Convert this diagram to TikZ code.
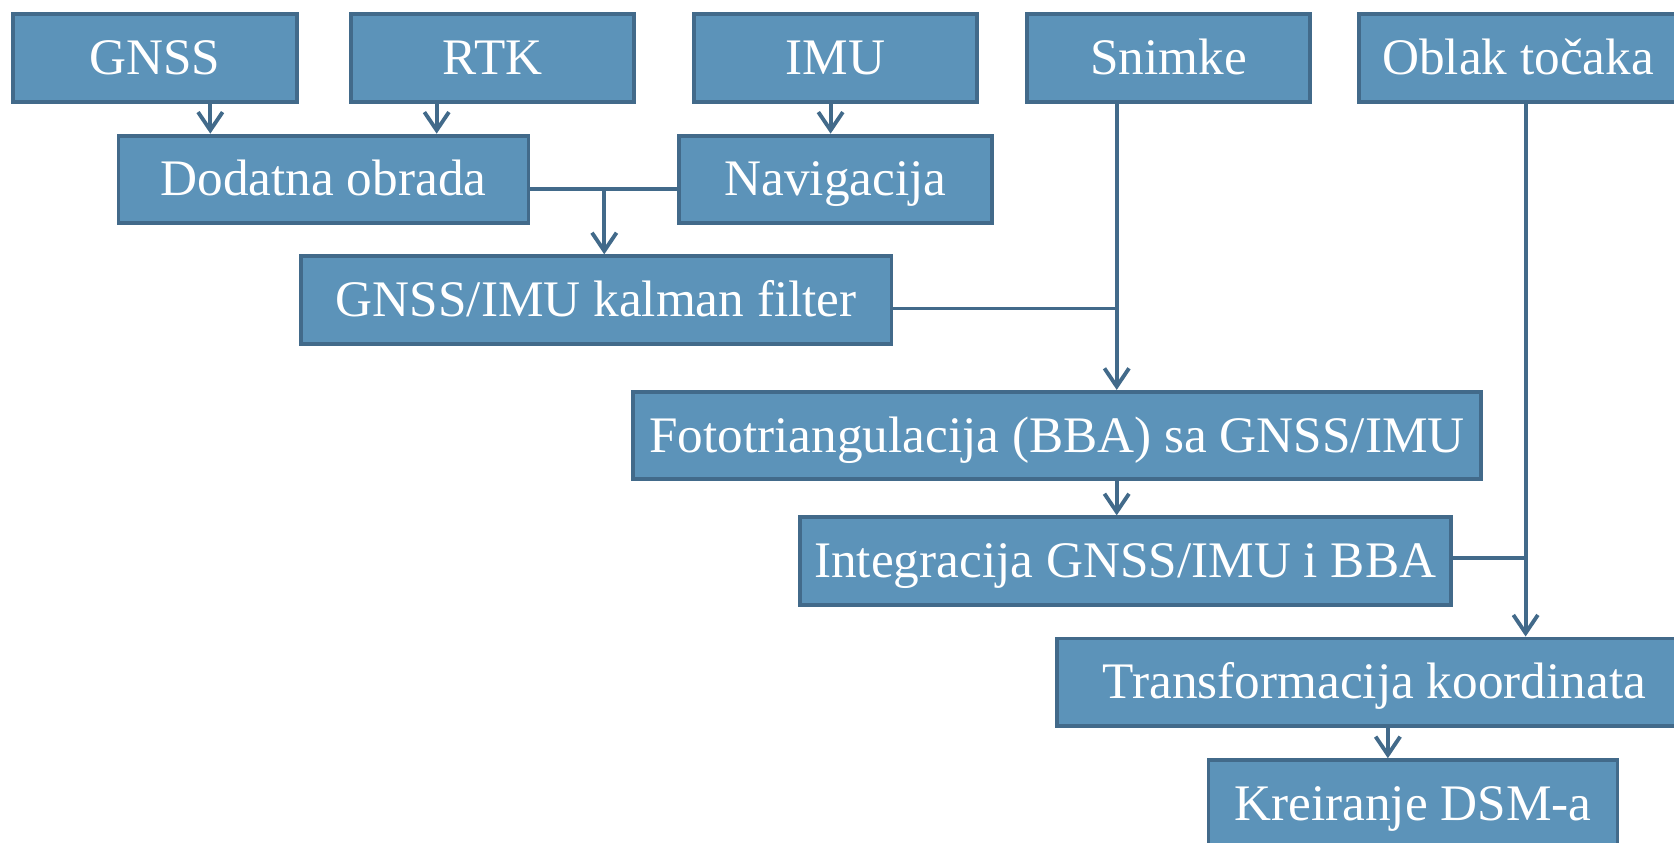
\documentclass[tikz,border=0pt]{standalone}
\usepackage{fontspec}
\setmainfont{Liberation Serif}
\usetikzlibrary{arrows.meta}
\definecolor{boxfill}{RGB}{92,147,185}
\definecolor{boxline}{RGB}{66,106,138}
\begin{document}
\begin{tikzpicture}[x=0.5pt,y=-0.5pt,
  box/.style={draw=boxline,fill=boxfill,line width=1.8pt,text=white,
    inner sep=0pt,minimum height=41pt,text height=19pt,text depth=3.6pt,
    font=\fontsize{24}{28}\selectfont},
  conn/.style={draw=boxline,line width=1.8pt},
  arr/.style={conn,-{Straight Barb[length=8.5pt,width=11.5pt,line width=1.8pt]}}]
\useasboundingbox (0,0) rectangle (1568,789);
\clip (0,0) rectangle (1568,789);
% top row
\node[box,minimum width=133pt] (gnss) at (145,54.5) {GNSS};
\node[box,minimum width=132.5pt] (rtk) at (461.5,54.5) {RTK};
\node[box,minimum width=132.5pt] (imu) at (782.5,54.5) {IMU};
\node[box,minimum width=132.5pt] (snimke) at (1094.5,54.5) {Snimke};
\node[box,minimum width=149pt] (oblak) at (1422,54.5) {Oblak točaka};
% second row
\node[box,minimum width=192pt] (dod) at (303,168) {Dodatna obrada};
\node[box,minimum width=146.5pt] (nav) at (782.5,168) {Navigacija};
% further rows
\node[box,minimum width=276.5pt] (kal) at (558.5,281) {GNSS/IMU kalman filter};
\node[box,minimum width=397pt] (foto) at (990,408) {Fototriangulacija (BBA) sa GNSS/IMU};
\node[box,minimum width=305pt] (int) at (1054,525.5) {Integracija GNSS/IMU i BBA};
\node[box,minimum width=297.5pt] (trans) at (1287.5,639) {Transformacija koordinata};
\node[box,minimum width=191.5pt] (dsm) at (1323.5,753) {Kreiranje DSM-a};
% helper coordinates
\coordinate (xg) at (197,0);
\coordinate (xr) at (409,0);
\coordinate (xi) at (778,0);
\coordinate (xm) at (566,177);
\coordinate (xs) at (1046,289);
\coordinate (xo) at (1429,523);
\coordinate (xt) at (1300,0);
% connectors
\draw[arr] (xg |- gnss.south) -- (xg |- dod.north);
\draw[arr] (xr |- rtk.south) -- (xr |- dod.north);
\draw[arr] (xi |- imu.south) -- (xi |- nav.north);
\draw[conn] (dod.east |- xm) -- (nav.west |- xm);
\draw[arr] (xm) -- (xm |- kal.north);
\draw[conn] (kal.east |- xs) -- (xs);
\draw[arr] (xs |- snimke.south) -- (xs |- foto.north);
\draw[arr] (xs |- foto.south) -- (xs |- int.north);
\draw[conn] (int.east |- xo) -- (xo);
\draw[arr] (xo |- oblak.south) -- (xo |- trans.north);
\draw[arr] (xt |- trans.south) -- (xt |- dsm.north);
\end{tikzpicture}
\end{document}
